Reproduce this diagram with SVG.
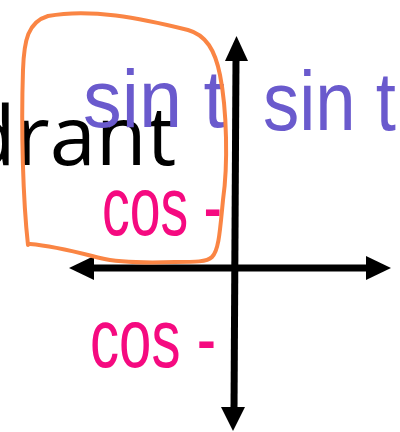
<svg xmlns="http://www.w3.org/2000/svg" width="400" height="432" viewBox="0 0 400 432">
<style>
.title{font-family:"Open Sans","Noto Sans",sans-serif;font-size:83px;fill:#000}
.ax{stroke:#000;stroke-width:7;fill:none}
.ah{fill:#000}
.sin{font-family:"Liberation Sans",Arial,sans-serif;fill:#6A5ACD}
.cos{font-family:"Liberation Sans",Arial,sans-serif;fill:#F50A80}
.ring{fill:none;stroke:#FA8544;stroke-width:4;stroke-linecap:round;stroke-linejoin:round}
</style>
<rect width="400" height="432" fill="#fff"/>
<g id="title"><text class="title" x="-35" y="165">drant</text></g>
<g id="axes">
<line class="ax" x1="236" y1="58" x2="234" y2="410"/>
<line class="ax" x1="90" y1="268" x2="370" y2="268"/>
<polygon class="ah" points="236.5,36 225,61 248,61"/>
<polygon class="ah" points="233,431 221,407 245,407"/>
<polygon class="ah" points="69,268 94,256 94,280"/>
<polygon class="ah" points="391,268 366,256 366,280"/>
</g>
<g id="sin-left"><text class="sin" x="83" y="127" font-size="82" textLength="142" lengthAdjust="spacingAndGlyphs">sin t</text></g>
<g id="sin-right"><text class="sin" x="263" y="130" font-size="84" textLength="133" lengthAdjust="spacingAndGlyphs">sin t</text></g>
<g id="cos-upper"><text class="cos" transform="translate(102,235) scale(1,1.2)" font-size="70" textLength="120" lengthAdjust="spacingAndGlyphs">cos -</text></g>
<g id="cos-lower"><text class="cos" transform="translate(90,367) scale(1,1.2)" font-size="70" textLength="126" lengthAdjust="spacingAndGlyphs">cos -</text></g>
<g id="highlight">
<path class="ring" d="M28,245 C23,200 21,130 23,70 C24,40 28,22 48,16 C90,8 140,18 188,30 C206,35 215,50 220,75 C227,110 228,165 223,200 C220,230 219,250 212,257 C207,262 195,262 175,262 C145,263 120,263 100,258 C80,253 55,246 30,244"/>
</g>
</svg>
